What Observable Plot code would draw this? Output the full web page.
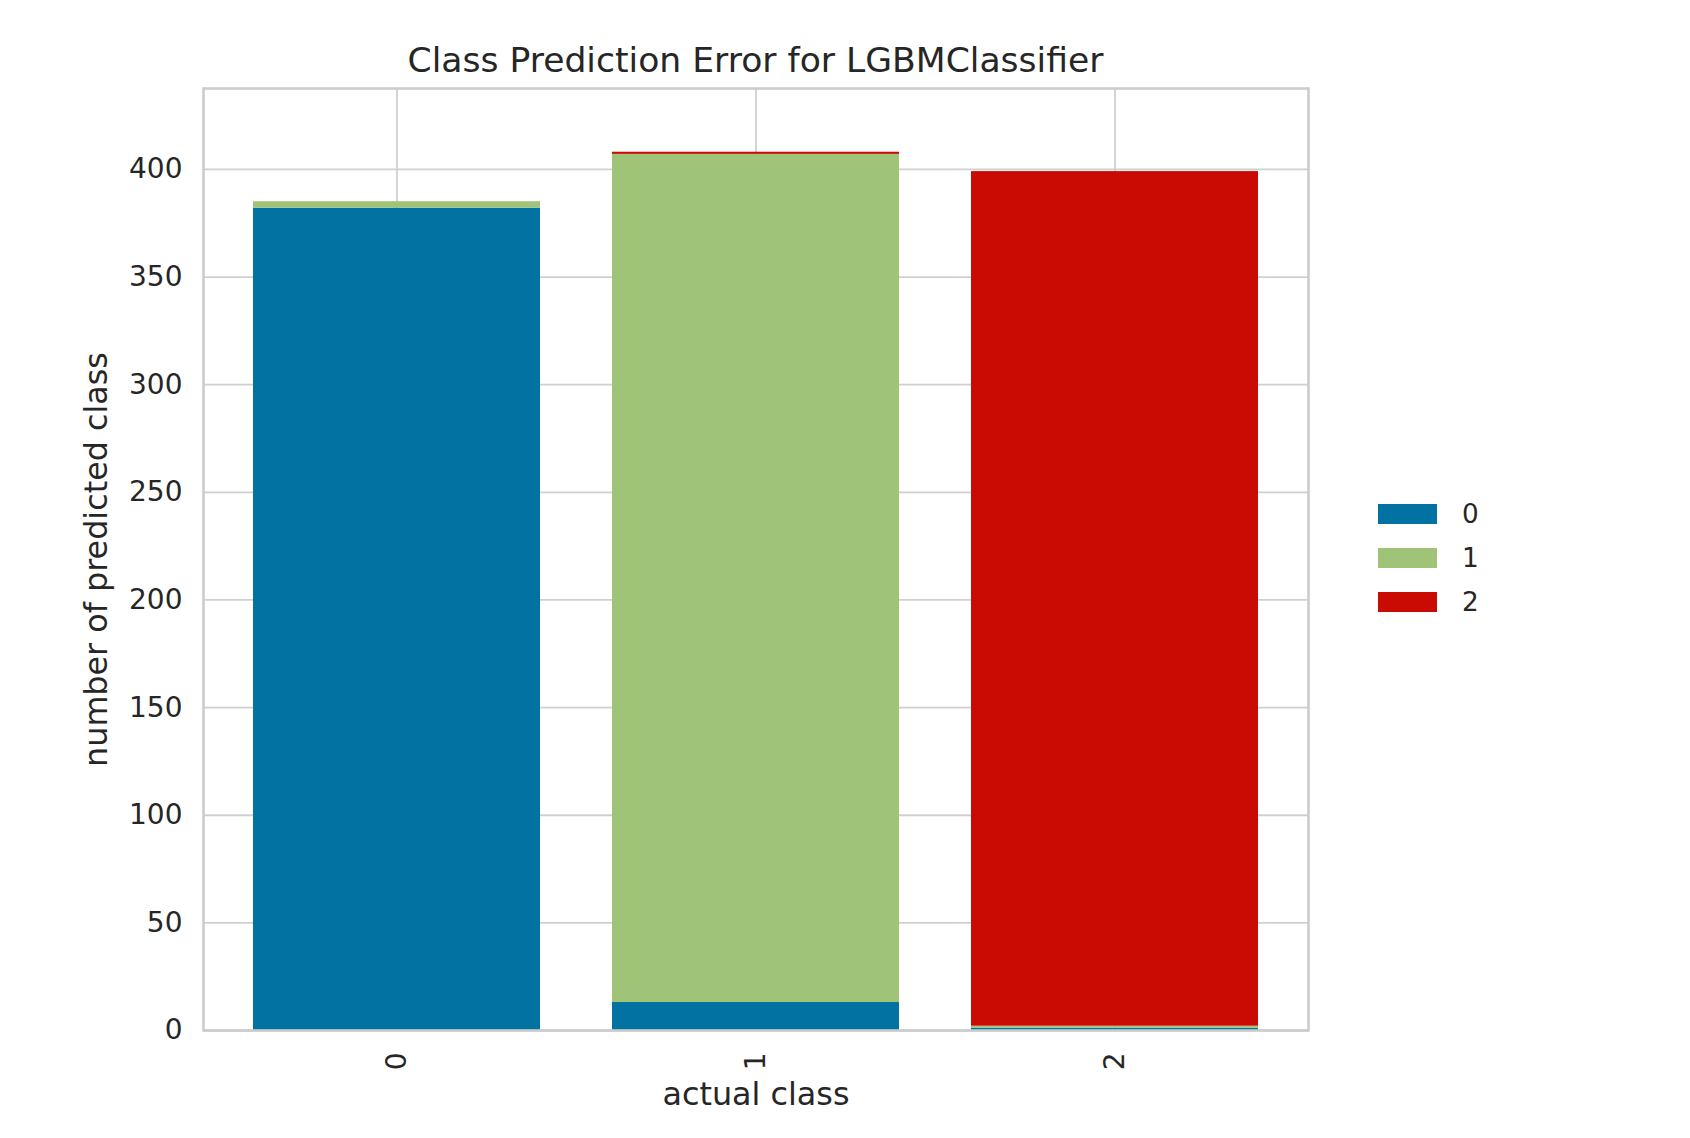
<!DOCTYPE html>
<html>
<head>
<meta charset="utf-8">
<script src="https://cdn.jsdelivr.net/npm/d3@7"></script>
<script src="https://cdn.jsdelivr.net/npm/@observablehq/plot@0.6"></script>
<style>
  html, body { margin: 0; padding: 0; background: #fff; }
  #wrap { position: relative; width: 1690px; height: 1138px; font-family: "DejaVu Sans", sans-serif; color: #262626; }
  #title { position: absolute; left: 203px; width: 1105px; top: 42px; text-align: center; font-size: 34.6px; line-height: 36px; }
  #legend { position: absolute; left: 1378px; top: 492px; }
  .item { display: flex; align-items: center; height: 44px; font-size: 26.3px; }
  .sw { width: 59px; height: 20px; margin-right: 25px; }
</style>
</head>
<body>
<div id="wrap">
  <div id="chart"></div>
  <div id="title">Class Prediction Error for LGBMClassifier</div>
  <div id="legend"></div>
</div>
<script>
// categories
const actualClasses = ["0", "1", "2"];
const predictedClasses = ["0", "1", "2"];
// counts of each predicted class, per actual class
const predicted0 = [382, 13, 1];
const predicted1 = [3, 394, 1];
const predicted2 = [0, 1, 397];
// tick labels
const yTicks = [0, 50, 100, 150, 200, 250, 300, 350, 400];
const yMax = 437.6;
const palette = ["#0272a2", "#9fc377", "#ca0b03"];

const series = [predicted0, predicted1, predicted2];
const rows = [];
actualClasses.forEach((a, i) => {
  predictedClasses.forEach((p, j) => {
    rows.push({actual: a, pred: p, count: series[j][i]});
  });
});

const chart = Plot.plot({
  width: 1690,
  height: 1138,
  marginLeft: 203,
  marginRight: 382,
  marginTop: 88,
  marginBottom: 108,
  style: {fontFamily: "DejaVu Sans, sans-serif", fontSize: "28px", color: "#262626", background: "transparent"},
  x: {type: "band", domain: actualClasses, paddingInner: 0.2, paddingOuter: 0.137, align: 0.5},
  y: {domain: [0, yMax]},
  color: {domain: predictedClasses, range: palette},
  marks: [
    Plot.gridX(actualClasses, {stroke: "#d0d0d0", strokeOpacity: 1, strokeWidth: 1.8}),
    Plot.gridY(yTicks, {stroke: "#d0d0d0", strokeOpacity: 1, strokeWidth: 1.8}),
    Plot.barY(rows, {x: "actual", y: "count", fill: "pred", inset: 0}),
    Plot.frame({stroke: "#cccccc", strokeWidth: 2.6}),
    Plot.axisX(actualClasses, {tickSize: 0, tickPadding: 22, tickRotate: -90, label: null, fill: "#262626"}),
    Plot.axisX({ticks: [], tickSize: 0, label: "actual class", labelAnchor: "center", labelArrow: "none", labelOffset: 74.5, fontSize: 31.8, fill: "#262626"}),
    Plot.axisY(yTicks, {tickSize: 0, tickPadding: 21, label: null, fill: "#262626"}),
    Plot.axisY({ticks: [], tickSize: 0, label: "number of predicted class", labelAnchor: "center", labelArrow: "none", labelOffset: 119, fontSize: 31.8, fill: "#262626"})
  ]
});
document.getElementById("chart").appendChild(chart);

const legend = document.getElementById("legend");
predictedClasses.forEach((c, i) => {
  const item = document.createElement("div");
  item.className = "item";
  const sw = document.createElement("div");
  sw.className = "sw";
  sw.style.background = palette[i];
  const lab = document.createElement("span");
  lab.textContent = c;
  item.appendChild(sw);
  item.appendChild(lab);
  legend.appendChild(item);
});
</script>
</body>
</html>
